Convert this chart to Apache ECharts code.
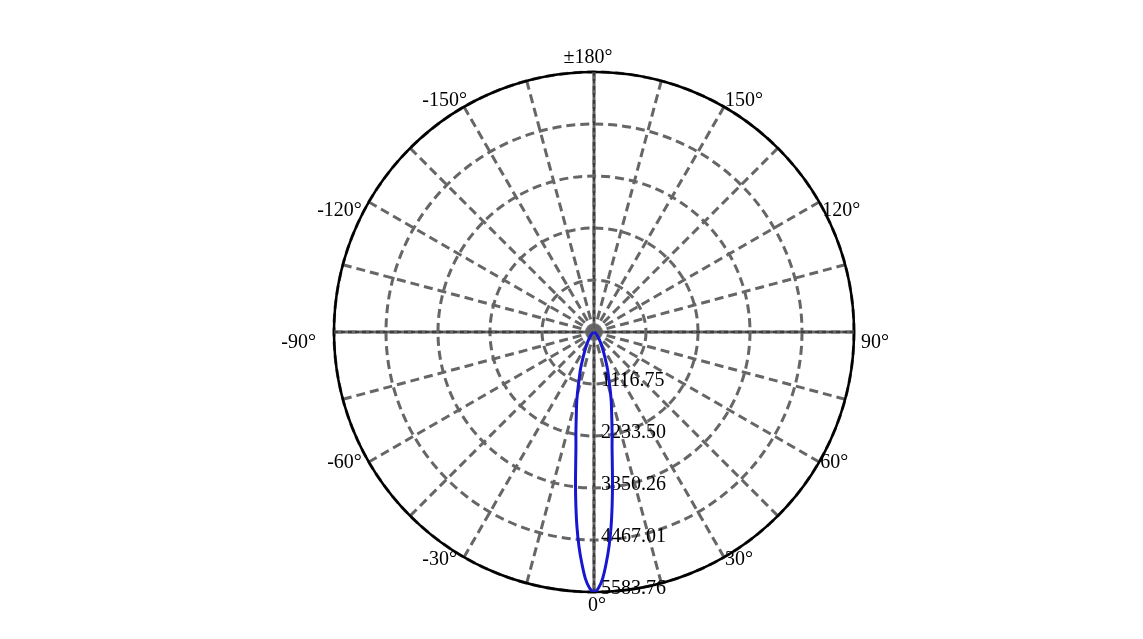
<!DOCTYPE html>
<html><head><meta charset="utf-8">
<script src="https://cdn.jsdelivr.net/npm/echarts@6/dist/echarts.min.js"></script>
<style>html,body{margin:0;padding:0;background:#fff}#c{width:1143px;height:639px}</style>
</head><body><div id="c"></div>
<script>
// Intensity (cd) at angles (deg) from the beam axis (symmetric curve)
const angles = [0,1,2,3,4,5,6,7,8,9,10,12,14,16,18,20,22,25,30,35,40,45,50,60,70,80,90];
const intensity = [5583.76,5500,5300,4980,4620,4200,3730,3260,2820,2480,2240,1830,1530,1240,1010,850,680,500,320,200,130,90,60,30,15,5,0];
const radiusMax = 5583.76;
const radiusRings = 5;
// Angle tick labels every 30 degrees (axis value -> text)
const angleTickValues = [0,30,60,90,120,150,180,210,240,270,300,330];
const angleTickLabels = ['0°','30°','60°','90°','120°','150°','±180°','-150°','-120°','-90°','-60°','-30°'];

const data = [];
for (let i = angles.length - 1; i >= 0; i--) data.push([intensity[i], angles[i]]);
for (let i = 1; i < angles.length; i++) data.push([intensity[i], 360 - angles[i]]);

const font = 'Liberation Serif';
const center = [594, 332];
const R = 260;
// per-label nudges (padding: top, right, bottom, left)
const labelPad = {
  0: [4, 0, 0, 6], 30: [-7, 0, 0, 1], 60: [-9, 0, 0, 1], 90: [22, 0, 0, 7],
  120: [0, 0, -19, 3], 150: [0, 0, -4, 1], 180: [0, 12, 4, 0],
  210: [0, -3, -4, 0], 240: [0, 7, -19, 0], 270: [22, 18, 0, 0],
  300: [-9, 7, 0, 0], 330: [-7, 7, 0, 0]
};
const rich = {};
angleTickValues.forEach(v => {
  rich['a' + v] = {fontFamily: font, fontSize: 20, color: '#000', padding: labelPad[v]};
});

const hiddenRadius = (idx) => ({polarIndex: idx, type: 'value', min: 0, max: radiusMax, axisLine:{show:false}, axisTick:{show:false}, axisLabel:{show:false}, splitLine:{show:false}});

const chart = echarts.init(document.getElementById('c'));
chart.setOption({
  animation: false,
  backgroundColor: '#fff',
  polar: [
    {center: center, radius: R},
    {center: center, radius: R},
    {center: center, radius: R}
  ],
  angleAxis: [
    {
      polarIndex: 0, type: 'value', min: 0, max: 360, interval: 15,
      startAngle: -90, clockwise: false, z: 0,
      axisLine: {show: true, lineStyle: {color: '#000', width: 2.5}},
      axisTick: {show: false},
      splitLine: {show: true, lineStyle: {color: '#666', width: 3, type: [9, 5]}},
      axisLabel: {
        show: true, margin: 0, color: '#000', fontFamily: font, fontSize: 20,
        rich: rich,
        formatter: function (v) {
          const i = angleTickValues.indexOf(v);
          if (i < 0) return '';
          return '{a' + v + '|' + angleTickLabels[i] + '}';
        }
      }
    },
    {
      polarIndex: 1, type: 'value', min: 0, max: 360, interval: 90,
      startAngle: -90, clockwise: false, z: 1,
      axisLine: {show: false}, axisTick: {show: false}, axisLabel: {show: false},
      splitLine: {show: true, lineStyle: {color: '#666', width: 3, type: 'solid'}}
    },
    {
      polarIndex: 2, type: 'value', min: 0, max: 360, interval: 90,
      startAngle: -90, clockwise: false, z: 1,
      axisLine: {show: false}, axisTick: {show: false}, axisLabel: {show: false},
      splitLine: {show: true, lineStyle: {color: '#000', width: 0.8, type: [4, 3]}}
    }
  ],
  radiusAxis: [
    {
      polarIndex: 0, type: 'value', min: 0, max: radiusMax, interval: radiusMax / radiusRings, z: 0,
      axisLine: {show: false}, axisTick: {show: false},
      splitLine: {show: true, lineStyle: {color: '#666', width: 3, type: [9, 5]}},
      axisLabel: {
        show: true, showMinLabel: false, color: '#000', fontFamily: font, fontSize: 20, margin: 7,
        rich: {r: {fontFamily: font, fontSize: 20, color: '#000', padding: [0, 0, 6, 0]}},
        formatter: function (v) { return '{r|' + v.toFixed(2) + '}'; }
      }
    },
    hiddenRadius(1),
    hiddenRadius(2)
  ],
  series: [
    {
      type: 'scatter', coordinateSystem: 'polar', polarIndex: 0, z: 1.8,
      symbolSize: 18, itemStyle: {color: '#666'}, silent: true,
      data: [[0, 0]]
    },
    {
      type: 'line', coordinateSystem: 'polar', polarIndex: 0, z: 3,
      smooth: 0.3, showSymbol: false,
      lineStyle: {color: '#1717d0', width: 3},
      data: data
    }
  ]
});
</script></body></html>
